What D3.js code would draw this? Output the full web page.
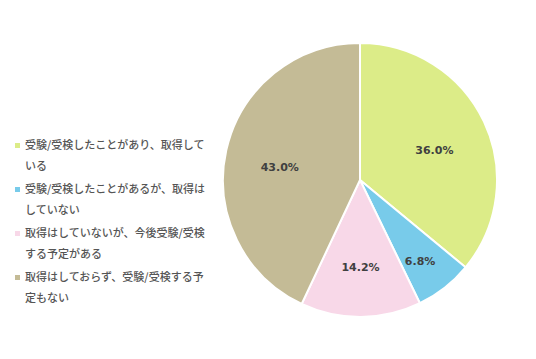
<!DOCTYPE html>
<html><head><meta charset="utf-8">
<script src="https://cdn.jsdelivr.net/npm/d3@7"></script>
<style>body{margin:0;background:#fff;}svg{display:block;font-family:"Noto Sans CJK JP","Noto Sans",sans-serif;}</style>
</head><body><svg id="c" width="536" height="359"></svg>
<script>
const categories = [
  ["受験/受検したことがあり、取得して", "いる"],
  ["受験/受検したことがあるが、取得は", "していない"],
  ["取得はしていないが、今後受験/受検", "する予定がある"],
  ["取得はしておらず、受験/受検する予", "定もない"]
];
const values = [36.0, 6.8, 14.2, 43.0];
const colors = ["#dcec88", "#78cbea", "#f8d8e8", "#c4bb96"];

const svg = d3.select("#c");
const cx = 360, cy = 180, r = 137;
const pie = d3.pie().sort(null).value(d => d);
const arc = d3.arc().innerRadius(0).outerRadius(r);
const labelArc = d3.arc().innerRadius(d => d.data < 10 ? r * 0.71 : r * 0.6)
                         .outerRadius(d => d.data < 10 ? r * 0.71 : r * 0.6);
const g = svg.append("g").attr("transform", `translate(${cx},${cy})`);
const arcs = pie(values);
g.selectAll("path").data(arcs).join("path")
  .attr("d", arc).attr("fill", (d, i) => colors[i])
  .attr("stroke", "#fff").attr("stroke-width", 2);
g.selectAll("text").data(arcs).join("text")
  .attr("transform", d => `translate(${labelArc.centroid(d)})`)
  .attr("text-anchor", "middle").attr("dy", "0.8em")
  .attr("font-family", "'DejaVu Sans', Verdana, sans-serif")
  .attr("font-size", 11).attr("font-weight", "bold").attr("fill", "#404040")
  .text(d => d.data.toFixed(1) + "%");

const leg = svg.append("g");
const y0 = [145, 189, 233, 277];
categories.forEach((lines, i) => {
  leg.append("rect").attr("x", 15).attr("y", y0[i] - 2).attr("width", 5).attr("height", 5).attr("fill", colors[i]);
  lines.forEach((t, j) => {
    leg.append("text").attr("x", 25).attr("y", y0[i] + j * 21).attr("dy", "0.35em")
      .attr("font-size", 11).attr("font-weight", 500).attr("fill", "#555").text(t);
  });
});
</script></body></html>
